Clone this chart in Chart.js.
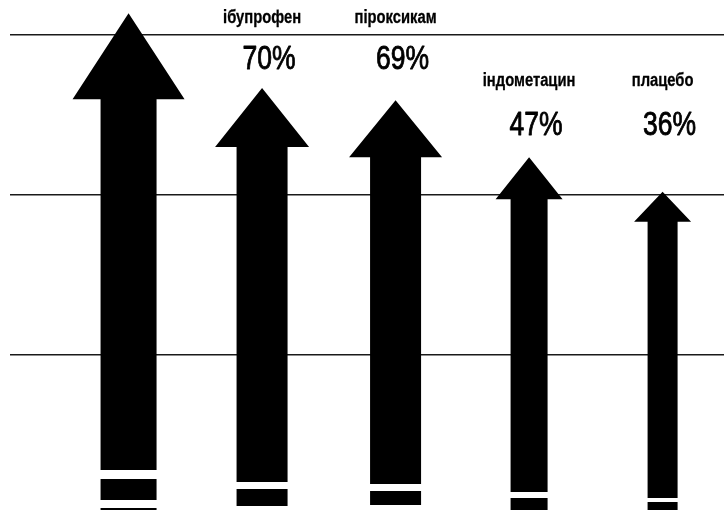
<!DOCTYPE html>
<html><head><meta charset="utf-8">
<script src="https://cdn.jsdelivr.net/npm/chart.js@4.4.1/dist/chart.umd.min.js"></script>
<style>html,body{margin:0;padding:0;background:#fff;}#wrap{width:724px;height:510px;overflow:hidden;}</style>
</head><body><div id="wrap"><canvas id="c" width="724" height="510"></canvas></div>
<script>
// ---- data ----
const categories = ['', 'ібупрофен', 'піроксикам', 'індометацин', 'плацебо'];
const percentValues = [null, 70, 69, 47, 36];
const arrowHeights = [78.4, 66.7, 64.8, 55.9, 50.5];
const gridValues = [25, 50, 75];

// ---- styles (pixels) ----
const shaftWidths = [56, 51, 51, 37, 30];
const headWidths = [112, 94, 93, 67, 57];
const headHeights = [86, 59, 57, 42, 30];
// white gaps at the bottom of each shaft: [top, bottom] measured upward from the base
const shaftGaps = [
  [[45, 36], [15, 7]],
  [[33, 26], [9, 3]],
  [[31, 24], [10, 2]],
  [[23, 17], [5, 1]],
  [[17, 13], [4, 0]]
];
const labelBaselines = [null, 23, 23, 86, 86];
const percentBaselines = [null, 69, 69, 135, 135];
const percentShift = 7;

function drawText(ctx, text, x, y, font, sx, strokeW) {
  ctx.save();
  ctx.translate(x, y);
  ctx.scale(sx, 1);
  ctx.font = font;
  ctx.textAlign = 'center';
  ctx.textBaseline = 'alphabetic';
  ctx.fillStyle = '#000';
  ctx.fillText(text, 0, 0);
  if (strokeW) {
    ctx.strokeStyle = '#000';
    ctx.lineWidth = strokeW;
    ctx.lineJoin = 'round';
    ctx.strokeText(text, 0, 0);
  }
  ctx.restore();
}

const arrowPlugin = {
  id: 'arrows',
  afterDatasetsDraw(chart) {
    const ctx = chart.ctx;
    const meta = chart.getDatasetMeta(0);
    meta.data.forEach((el, i) => {
      const x = el.x, tip = el.y, base = el.base;
      const sw = shaftWidths[i] / 2, hw = headWidths[i] / 2, wing = tip + headHeights[i];
      ctx.save();
      ctx.fillStyle = '#000';
      ctx.beginPath();
      ctx.moveTo(x, tip);
      ctx.lineTo(x + hw, wing);
      ctx.lineTo(x + sw, wing);
      ctx.lineTo(x + sw, base + 2);
      ctx.lineTo(x - sw, base + 2);
      ctx.lineTo(x - sw, wing);
      ctx.lineTo(x - hw, wing);
      ctx.closePath();
      ctx.fill();
      ctx.fillStyle = '#fff';
      shaftGaps[i].forEach(g => {
        ctx.fillRect(x - sw - 1, base - g[0], shaftWidths[i] + 2, g[0] - g[1]);
      });
      ctx.restore();
      if (categories[i]) {
        drawText(ctx, categories[i], x, labelBaselines[i], 'bold 18px "Liberation Sans", Arial, sans-serif', 0.82, 0.3);
      }
      if (percentValues[i] != null) {
        drawText(ctx, percentValues[i] + '%', x + percentShift, percentBaselines[i], '34px "Liberation Sans", Arial, sans-serif', 0.78, 0.9);
      }
    });
  }
};

new Chart(document.getElementById('c'), {
  type: 'bar',
  data: {
    datasets: [{
      data: arrowHeights.map((v, i) => ({ x: i, y: v })),
      backgroundColor: 'rgba(0,0,0,0)',
      borderWidth: 0,
      barThickness: 56
    }]
  },
  options: {
    responsive: false,
    animation: false,
    devicePixelRatio: 1,
    layout: { padding: { left: 10, right: 0, top: 0, bottom: 0 } },
    plugins: { legend: { display: false }, tooltip: { enabled: false } },
    scales: {
      x: { type: 'linear', offset: false, min: -0.888, max: 4.46, display: false },
      y: {
        min: 0.78125, max: 80.46875,
        ticks: { display: false },
        border: { display: false },
        grid: { color: '#1a1a1a', lineWidth: 1.6, drawTicks: false },
        afterBuildTicks: s => { s.ticks = gridValues.map(v => ({ value: v })); },
        afterFit: s => { s.width = 0; }
      }
    }
  },
  plugins: [arrowPlugin]
});
</script>
</body></html>
